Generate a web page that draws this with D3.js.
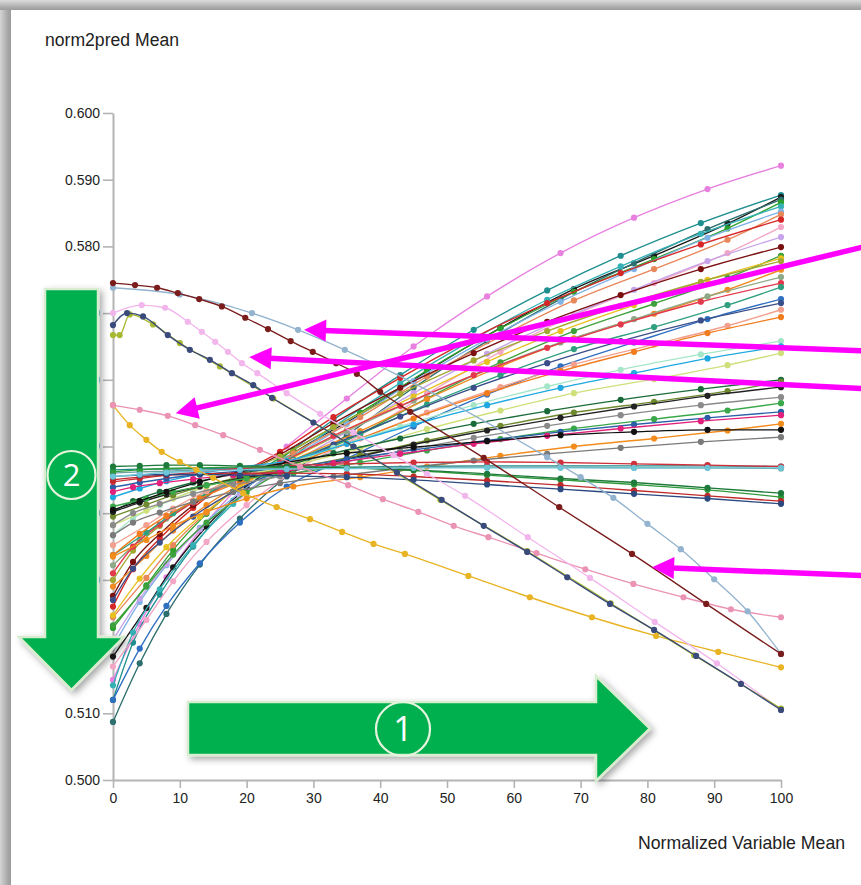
<!DOCTYPE html>
<html>
<head>
<meta charset="utf-8">
<script src="https://cdn.jsdelivr.net/npm/d3@7"></script>
<style>
  html, body { margin: 0; padding: 0; background: #ffffff; }
  svg { display: block; }
  .axis text { font-family: "Liberation Sans", Arial, sans-serif; font-size: 14px; fill: #222; }
  .axis path, .axis line { stroke: #b4b4b4; }
  .axis path { stroke-width: 2px; }
  .axis line { stroke-width: 1.6px; }
</style>
</head>
<body>
<script>
// x positions at which the rising / flat series were sampled (three sampling schemes)
const gridA = [0, 4, 8, 13, 19, 26, 35, 45, 56, 67, 78, 89, 100];
const gridB = [0, 3, 7, 12, 18, 25, 33, 43, 54, 65, 76, 88, 100];
const gridC = [0, 5, 9, 14, 20, 27, 37, 47, 58, 69, 81, 92, 100];

const yTicks = [0.500, 0.510, 0.520, 0.530, 0.540, 0.550, 0.560, 0.570, 0.580, 0.590, 0.600];
const xTicks = [0, 10, 20, 30, 40, 50, 60, 70, 80, 90, 100];

// Series that cross the pivot and fan out upward
const fanColors = [
  "#e880e0", "#1f8f8f", "#1a1a1a", "#2d6e6e", "#2ca02c", "#35b0b5", "#7fb2e5", "#e8875a",
  "#d62728", "#f3a6c6", "#c6a3ea", "#7b1010", "#3ca03c", "#e8c020", "#a3a832", "#f08a24",
  "#8fa887", "#e23a4c", "#2f9f7f", "#2f6fc0", "#3a4f8a", "#f3a08f", "#f07c1e", "#a6e6c8",
  "#cfe07a", "#1fa8e0", "#1b6b3a", "#6f8a2e", "#222222", "#8a8a8a", "#3aa84a", "#2b5fa8",
  "#e0207a", "#f28c1c", "#111111", "#7a7a7a"
];
const fanGrid = [
  "A", "B", "C", "A", "C", "B", "A", "C", "B", "C", "A", "B",
  "C", "A", "B", "C", "A", "B", "C", "A", "B", "C", "A", "B",
  "C", "A", "B", "C", "A", "B", "C", "A", "B", "C", "A", "B"
];
const fanValues = [
  [.5150,.5234,.5304,.5374,.5441,.5500,.5572,.5650,.5725,.5790,.5843,.5886,.5921],
  [.5120,.5206,.5278,.5350,.5419,.5480,.5540,.5607,.5675,.5734,.5786,.5835,.5877],
  [.5185,.5258,.5319,.5380,.5438,.5490,.5548,.5613,.5678,.5736,.5786,.5834,.5874],
  [.5087,.5175,.5249,.5323,.5392,.5455,.5517,.5588,.5658,.5721,.5775,.5826,.5870],
  [.5228,.5292,.5345,.5399,.5450,.5495,.5551,.5614,.5677,.5732,.5781,.5827,.5866],
  [.5142,.5221,.5286,.5352,.5414,.5470,.5529,.5595,.5661,.5720,.5770,.5819,.5860],
  [.5200,.5267,.5322,.5378,.5431,.5478,.5534,.5598,.5661,.5717,.5766,.5813,.5852],
  [.5244,.5303,.5352,.5401,.5448,.5490,.5544,.5605,.5665,.5719,.5766,.5810,.5848],
  [.5260,.5316,.5362,.5408,.5453,.5492,.5544,.5603,.5663,.5715,.5760,.5803,.5840],
  [.5170,.5240,.5298,.5357,.5412,.5462,.5517,.5579,.5642,.5697,.5745,.5790,.5829],
  [.5210,.5272,.5324,.5376,.5426,.5470,.5522,.5580,.5639,.5690,.5735,.5778,.5814],
  [.5276,.5327,.5369,.5412,.5452,.5488,.5535,.5588,.5640,.5687,.5727,.5766,.5799],
  [.5232,.5290,.5338,.5386,.5431,.5472,.5519,.5572,.5626,.5673,.5714,.5753,.5786],
  [.5247,.5302,.5349,.5395,.5439,.5478,.5524,.5575,.5627,.5673,.5712,.5750,.5782],
  [.5300,.5344,.5381,.5418,.5454,.5485,.5529,.5579,.5629,.5673,.5711,.5747,.5778],
  [.5290,.5336,.5374,.5412,.5448,.5480,.5523,.5571,.5620,.5662,.5699,.5735,.5765],
  [.5322,.5360,.5392,.5424,.5455,.5482,.5523,.5569,.5615,.5656,.5691,.5725,.5754],
  [.5310,.5350,.5383,.5416,.5447,.5475,.5516,.5561,.5607,.5648,.5683,.5717,.5745],
  [.5337,.5371,.5400,.5429,.5456,.5480,.5519,.5563,.5607,.5646,.5679,.5712,.5739],
  [.5120,.5197,.5261,.5325,.5386,.5440,.5482,.5530,.5578,.5620,.5656,.5691,.5721],
  [.5270,.5317,.5356,.5395,.5432,.5465,.5503,.5545,.5588,.5625,.5658,.5689,.5715],
  [.5352,.5382,.5407,.5433,.5457,.5478,.5512,.5551,.5589,.5623,.5653,.5681,.5705],
  [.5337,.5369,.5396,.5422,.5447,.5470,.5504,.5542,.5580,.5613,.5642,.5670,.5694],
  [.5367,.5392,.5412,.5433,.5452,.5470,.5498,.5530,.5562,.5590,.5615,.5638,.5658],
  [.5382,.5404,.5422,.5440,.5457,.5472,.5497,.5526,.5554,.5580,.5601,.5622,.5640],
  [.5424,.5437,.5448,.5459,.5469,.5478,.5504,.5533,.5562,.5588,.5610,.5632,.5650],
  [.5402,.5418,.5432,.5446,.5458,.5470,.5490,.5512,.5534,.5553,.5570,.5586,.5600],
  [.5395,.5413,.5427,.5442,.5456,.5468,.5487,.5509,.5531,.5551,.5567,.5583,.5597],
  [.5402,.5416,.5428,.5440,.5452,.5462,.5481,.5503,.5524,.5543,.5560,.5576,.5589],
  [.5382,.5400,.5414,.5429,.5443,.5455,.5473,.5493,.5513,.5531,.5547,.5562,.5574],
  [.5410,.5422,.5432,.5442,.5452,.5460,.5476,.5494,.5511,.5527,.5541,.5554,.5565],
  [.5439,.5446,.5452,.5458,.5463,.5468,.5481,.5495,.5509,.5522,.5533,.5543,.5552],
  [.5432,.5439,.5445,.5451,.5457,.5462,.5475,.5489,.5504,.5516,.5527,.5538,.5547],
  [.5335,.5360,.5381,.5402,.5422,.5440,.5454,.5470,.5486,.5500,.5512,.5524,.5534],
  [.5405,.5418,.5432,.5447,.5462,.5476,.5490,.5499,.5508,.5517,.5522,.5525,.5525],
  [.5367,.5386,.5401,.5417,.5432,.5445,.5455,.5467,.5479,.5489,.5498,.5507,.5514]
];

// Nearly flat series around the pivot level (sampled on gridA)
const flatColors = ["#1f8a8a", "#6fa0a0", "#d0303a", "#2f9a3a", "#c02a2a", "#2c4a80", "#1e7a3a", "#6cc6d8"];
const flatValues = [
  [.5465,.5466,.5466,.5467,.5467,.5468,.5469,.5470,.5471,.5471,.5471,.5471,.5470],
  [.5460,.5462,.5463,.5465,.5466,.5467,.5468,.5469,.5469,.5469,.5468,.5468,.5467],
  [.5447,.5452,.5457,.5462,.5467,.5471,.5474,.5476,.5477,.5476,.5474,.5472,.5470],
  [.5462,.5465,.5467,.5468,.5469,.5469,.5468,.5464,.5457,.5450,.5443,.5435,.5424],
  [.5450,.5454,.5457,.5459,.5460,.5460,.5459,.5455,.5449,.5442,.5434,.5426,.5418],
  [.5455,.5457,.5458,.5458,.5457,.5456,.5454,.5450,.5443,.5436,.5429,.5422,.5414],
  [.5470,.5471,.5472,.5472,.5471,.5470,.5468,.5465,.5459,.5452,.5446,.5438,.5430],
  [.5455,.5458,.5461,.5463,.5465,.5466,.5467,.5468,.5468,.5468,.5468,.5468,.5468]
];

// Series that fall across the range, each with its own x positions
const maroonX = [0, 3.3, 6.6, 9.7, 12.9, 16.3, 19.8, 23.2, 26.6, 29.9, 33.4, 36.5, 40, 44.5, 55.5, 66.8, 77.7, 88.8, 100];
const maroonV = [.5745,.5742,.5738,.5730,.5721,.5710,.5693,.5676,.5658,.5642,.5625,.5609,.5582,.5552,.5483,.5409,.5339,.5264,.5189];

const steelX = [0, 10, 20.8, 27.7, 34.7, 65, 70, 74.9, 80, 85, 90, 95, 100];
const steelV = [.5738,.5728,.5700,.5675,.5645,.5484,.5454,.5423,.5384,.5346,.5301,.5253,.5189];

const lilacX = [0, 4.3, 7.8, 11.2, 13.3, 15.3, 17.2, 19.3, 21.6, 26, 31, 36, 42, 47, 52.7, 62.1, 71.4, 81.1, 90.4, 100];
const lilacV = [.5700,.5712,.5708,.5687,.5672,.5657,.5642,.5625,.5610,.5580,.5549,.5521,.5487,.5459,.5426,.5364,.5303,.5237,.5175,.5105];

const navyX = [0, 2.1, 4.5, 8.2, 11.5, 14.5, 17.8, 21, 23.8, 30, 36, 42.5, 49.2, 55.5, 62, 68, 74.4, 81, 87.3, 94, 100];
const navyV = [.5682,.5700,.5695,.5667,.5645,.5630,.5610,.5592,.5573,.5536,.5500,.5461,.5420,.5381,.5342,.5304,.5264,.5225,.5186,.5144,.5105];

const oliveX = [0, 1, 2.5, 6, 10, 16, 24, 36, 49, 62, 74.5, 87, 100];
const oliveV = [.5667,.5667,.5698,.5683,.5655,.5620,.5572,.5500,.5420,.5343,.5265,.5187,.5107];

const roseX = [0, 4, 8.2, 12.3, 16.5, 22, 28, 35.2, 40.4, 45.7, 51, 56.2, 63.4, 70.7, 77.9, 85.4, 92.5, 100];
const roseV = [.5562,.5555,.5546,.5532,.5517,.5495,.5470,.5442,.5421,.5402,.5381,.5364,.5340,.5316,.5294,.5274,.5256,.5244];

const goldX = [0, 2.5, 5, 7.3, 10, 12.5, 15, 19.5, 24.5, 29.5, 34.3, 39, 43.7, 53.2, 62.4, 71.7, 81.3, 90.6, 100];
const goldV = [.5562,.5532,.5510,.5492,.5477,.5465,.5453,.5430,.5409,.5391,.5372,.5354,.5339,.5306,.5274,.5244,.5216,.5192,.5169];

// Callout arrows, in data units (tail beyond the right edge, tip on a curve)
const callouts = [
  { from: [113.5, 0.5802], to: [9.4, 0.5550] },
  { from: [113.5, 0.5643], to: [28.6, 0.5675] },
  { from: [113.5, 0.5586], to: [20.4, 0.5634] },
  { from: [113.5, 0.5306], to: [80.7, 0.5319] }
];

const grids = { A: gridA, B: gridB, C: gridC };

const W = 861, H = 885;
const svg = d3.select("body").append("svg").attr("width", W).attr("height", H);
const defs = svg.append("defs");

// window frame shading on the left and top
const gL = defs.append("linearGradient").attr("id", "frameL").attr("x1", 0).attr("x2", 1).attr("y1", 0).attr("y2", 0);
gL.append("stop").attr("offset", "0%").attr("stop-color", "#d4d4d4");
gL.append("stop").attr("offset", "70%").attr("stop-color", "#a8a8a8");
gL.append("stop").attr("offset", "100%").attr("stop-color", "#9a9a9a");
const gT = defs.append("linearGradient").attr("id", "frameT").attr("x1", 0).attr("x2", 0).attr("y1", 0).attr("y2", 1);
gT.append("stop").attr("offset", "0%").attr("stop-color", "#dcdcdc");
gT.append("stop").attr("offset", "70%").attr("stop-color", "#acacac");
gT.append("stop").attr("offset", "100%").attr("stop-color", "#9c9c9c");

const shadow = defs.append("filter").attr("id", "shadow").attr("x", "-20%").attr("y", "-20%").attr("width", "140%").attr("height", "140%");
shadow.append("feDropShadow").attr("dx", 3).attr("dy", 3).attr("stdDeviation", 3.5)
  .attr("flood-color", "#000").attr("flood-opacity", 0.35);

svg.append("rect").attr("width", W).attr("height", H).attr("fill", "#ffffff");
svg.append("rect").attr("x", 0).attr("y", 0).attr("width", 11).attr("height", H).attr("fill", "url(#frameL)");
svg.append("rect").attr("x", 0).attr("y", 0).attr("width", W).attr("height", 10).attr("fill", "url(#frameT)");

const x = d3.scaleLinear().domain([0, 100]).range([113, 781]);
const y = d3.scaleLinear().domain([0.5, 0.6]).range([780, 113]);

// axes
svg.append("g").attr("class", "axis").attr("transform", "translate(113,0)")
  .call(d3.axisLeft(y).tickValues(yTicks).tickFormat(d3.format(".3f")).tickSize(10).tickSizeOuter(0).tickPadding(3));
svg.append("g").attr("class", "axis").attr("transform", "translate(0,780)")
  .call(d3.axisBottom(x).tickValues(xTicks).tickFormat(d3.format("d")).tickSize(8).tickSizeOuter(0).tickPadding(5));

svg.append("text").attr("x", 45).attr("y", 46)
  .attr("font-family", "Liberation Sans, Arial, sans-serif").attr("font-size", 17.6).attr("fill", "#222")
  .text("norm2pred Mean");
svg.append("text").attr("x", 638).attr("y", 849)
  .attr("font-family", "Liberation Sans, Arial, sans-serif").attr("font-size", 17.7).attr("fill", "#222")
  .text("Normalized Variable Mean");

// series
const line = d3.line().x(d => x(d[0])).y(d => y(d[1])).curve(d3.curveMonotoneX);
const plot = svg.append("g");

function drawSeries(xs, vs, color) {
  const pts = xs.map((xv, i) => [xv, vs[i]]);
  const g = plot.append("g");
  g.append("path").attr("d", line(pts)).attr("fill", "none")
    .attr("stroke", color).attr("stroke-width", 1.35);
  g.selectAll("circle").data(pts).join("circle")
    .attr("cx", d => x(d[0])).attr("cy", d => y(d[1])).attr("r", 3.1).attr("fill", color);
}

fanValues.forEach((vs, i) => drawSeries(grids[fanGrid[i]], vs, fanColors[i]));
flatValues.forEach((vs, i) => drawSeries(gridA, vs, flatColors[i]));
drawSeries(goldX, goldV, "#e8b423");
drawSeries(roseX, roseV, "#eb93b5");
drawSeries(lilacX, lilacV, "#f2b6ec");
drawSeries(oliveX, oliveV, "#a8b830");
drawSeries(navyX, navyV, "#3a4a7a");
drawSeries(steelX, steelV, "#93b3cf");
drawSeries(maroonX, maroonV, "#7b1c1c");

// magenta callout arrows
const ann = svg.append("g");
callouts.forEach(c => {
  const x0 = x(c.from[0]), y0 = y(c.from[1]);
  const x1 = x(c.to[0]), y1 = y(c.to[1]);
  const ang = Math.atan2(y1 - y0, x1 - x0);
  const headL = 22, headW = 11;
  const bx = x1 - headL * Math.cos(ang), by = y1 - headL * Math.sin(ang);
  ann.append("line").attr("x1", x0).attr("y1", y0).attr("x2", bx + 2 * Math.cos(ang)).attr("y2", by + 2 * Math.sin(ang))
    .attr("stroke", "#ff00ff").attr("stroke-width", 5.5);
  const px = -Math.sin(ang), py = Math.cos(ang);
  ann.append("polygon")
    .attr("points", [[x1, y1], [bx + px * headW, by + py * headW], [bx - px * headW, by - py * headW]].map(p => p.join(",")).join(" "))
    .attr("fill", "#ff00ff");
});

// green direction arrows with numbered badges
const green = "#00b050", rim = "#d8edd0";
const gArr = svg.append("g").attr("filter", "url(#shadow)");
gArr.append("path")
  .attr("d", "M188,702 L596,702 L596,676 L650,728.5 L596,781 L596,755 L188,755 Z")
  .attr("fill", green).attr("stroke", rim).attr("stroke-width", 2.5).attr("stroke-linejoin", "miter");
gArr.append("path")
  .attr("d", "M45,289 L98,289 L98,637 L124,637 L71.5,690 L19,637 L45,637 Z")
  .attr("fill", green).attr("stroke", rim).attr("stroke-width", 2.5).attr("stroke-linejoin", "miter");

const badges = [
  { cx: 403, cy: 729, r: 27, label: "1", size: 34 },
  { cx: 71.5, cy: 475, r: 24, label: "2", size: 31 }
];
badges.forEach(b => {
  svg.append("circle").attr("cx", b.cx).attr("cy", b.cy).attr("r", b.r)
    .attr("fill", "none").attr("stroke", "#e6f4de").attr("stroke-width", 2.2);
  svg.append("text").attr("x", b.cx).attr("y", b.cy).attr("dy", "0.35em")
    .attr("text-anchor", "middle").attr("font-family", "Open Sans, Lato, sans-serif")
    .attr("font-size", b.size).attr("fill", "#ffffff").text(b.label);
});
</script>
</body>
</html>
